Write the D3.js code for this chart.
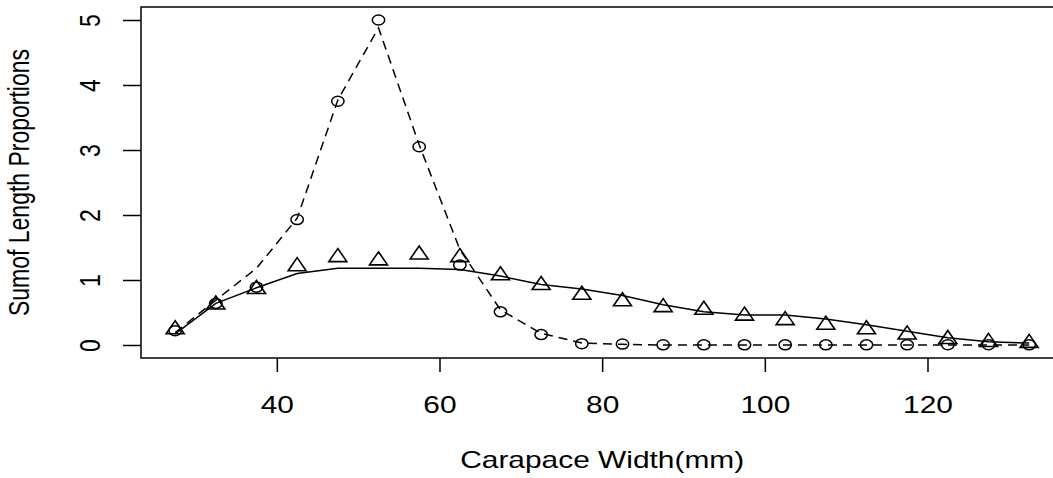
<!DOCTYPE html>
<html>
<head>
<meta charset="utf-8">
<script src="https://cdn.jsdelivr.net/npm/d3@7"></script>
<style>
  html, body { margin: 0; padding: 0; background: #fff; }
  svg { display: block; }
  text { font-family: "Liberation Sans", Arial, Helvetica, sans-serif; fill: #000; }
</style>
</head>
<body>
<svg id="chart" width="1053" height="478"></svg>
<script>
// ---- data ----
const widths = [27.5, 32.5, 37.5, 42.5, 47.5, 52.5, 57.5, 62.5, 67.5, 72.5, 77.5,
                82.5, 87.5, 92.5, 97.5, 102.5, 107.5, 112.5, 117.5, 122.5, 127.5, 132.5];
// circles (pch 1)
const circleValues = [0.22, 0.64, 0.89, 1.93, 3.75, 5.00, 3.05, 1.23, 0.51, 0.16, 0.02,
                      0.015, 0.003, 0.002, 0.002, 0.002, 0.002, 0.002, 0.002, 0.004, 0.004, 0.002];
// dashed line
const dashedValues = [0.19, 0.69, 1.18, 1.95, 3.77, 4.88, 3.08, 1.47, 0.54, 0.18, 0.03,
                      0.01, 0.0, 0.0, 0.0, 0.0, 0.0, 0.0, 0.0, 0.0, 0.0, 0.0];
// triangles (pch 2)
const triangleValues = [0.24, 0.62, 0.86, 1.21, 1.35, 1.30, 1.39, 1.35, 1.07, 0.92, 0.77,
                        0.67, 0.58, 0.54, 0.45, 0.38, 0.31, 0.24, 0.16, 0.09, 0.045, 0.03];
// solid line
const solidValues = [0.17, 0.64, 0.88, 1.10, 1.18, 1.18, 1.18, 1.16, 1.06, 0.93, 0.86,
                     0.76, 0.62, 0.51, 0.46, 0.46, 0.40, 0.31, 0.21, 0.11, 0.05, 0.03];
const xTicks = [40, 60, 80, 100, 120];
const yTicks = [0, 1, 2, 3, 4, 5];
const xTitle = "Carapace Width(mm)";
const yTitle = "Sumof Length Proportions";

// ---- layout ----
const svg = d3.select("#chart");
const boxLeft = 141, boxTop = 7, boxBottom = 358;
const xMin = d3.min(widths), xMax = d3.max(widths);
const xPad = (xMax - xMin) * 0.04;
const yMax = d3.max(circleValues), yPad = yMax * 0.04;
const pxPerUnit = (1029 - 175) / (xMax - xMin);
const boxRight = boxLeft + (xMax - xMin + 2 * xPad) * pxPerUnit;

const x = d3.scaleLinear().domain([xMin - xPad, xMax + xPad]).range([boxLeft, boxRight]);
const y = d3.scaleLinear().domain([0 - yPad, yMax + yPad]).range([boxBottom, boxTop]);

const sx = 1.3;   // horizontal stretch of the reference picture
const fs = 23;

// plot box
svg.append("rect")
  .attr("x", boxLeft).attr("y", boxTop)
  .attr("width", boxRight - boxLeft).attr("height", boxBottom - boxTop)
  .attr("fill", "none").attr("stroke", "#000").attr("stroke-width", 1.5);

// x axis
const xAxis = d3.axisBottom(x).tickValues(xTicks).tickSize(14).tickFormat(d3.format("d"));
const gx = svg.append("g").attr("transform", `translate(0,${boxBottom})`).call(xAxis);
gx.select(".domain").remove();
gx.selectAll(".tick line").attr("stroke", "#000").attr("stroke-width", 1.5);
gx.selectAll(".tick text")
  .attr("y", 0).attr("dy", 0)
  .attr("font-size", fs)
  .attr("transform", `translate(0,55) scale(${sx},1)`)
  .style("font-family", '"Liberation Sans", Arial, sans-serif');

// y axis
const yAxis = d3.axisLeft(y).tickValues(yTicks).tickSize(18).tickFormat(d3.format("d"));
const gy = svg.append("g").attr("transform", `translate(${boxLeft},0)`).call(yAxis);
gy.select(".domain").remove();
gy.selectAll(".tick line").attr("stroke", "#000").attr("stroke-width", 1.5);
gy.selectAll(".tick text")
  .attr("x", 0).attr("y", 0).attr("dy", 0)
  .attr("text-anchor", "middle")
  .attr("font-size", fs)
  .attr("transform", `translate(-41,0) scale(${sx},1) rotate(-90)`)
  .style("font-family", '"Liberation Sans", Arial, sans-serif');

// axis titles
svg.append("text")
  .attr("text-anchor", "middle")
  .attr("font-size", fs)
  .attr("transform", `translate(${(boxLeft + boxRight) / 2},468) scale(${sx},1)`)
  .text(xTitle);
svg.append("text")
  .attr("text-anchor", "middle")
  .attr("font-size", fs)
  .attr("transform", `translate(29,${(boxTop + boxBottom) / 2}) scale(${sx},1) rotate(-90)`)
  .text(yTitle);

// lines
const line = vals => d3.line().x((d, i) => x(widths[i])).y(d => y(d))(vals);
svg.append("path").attr("d", line(dashedValues))
  .attr("fill", "none").attr("stroke", "#000").attr("stroke-width", 1.5)
  .attr("stroke-dasharray", "9,6");
svg.append("path").attr("d", line(solidValues))
  .attr("fill", "none").attr("stroke", "#000").attr("stroke-width", 1.5);

// circles
svg.append("g").selectAll("ellipse").data(circleValues).join("ellipse")
  .attr("cx", (d, i) => x(widths[i])).attr("cy", d => y(d))
  .attr("rx", 6.2).attr("ry", 5)
  .attr("fill", "none").attr("stroke", "#000").attr("stroke-width", 1.5);

// triangles
const tr = 8.7, txc = 9;
svg.append("g").selectAll("path").data(triangleValues).join("path")
  .attr("d", (d, i) => {
    const cx = x(widths[i]), cy = y(d);
    return `M${cx},${cy - tr}L${cx + txc},${cy + tr / 2}L${cx - txc},${cy + tr / 2}Z`;
  })
  .attr("fill", "none").attr("stroke", "#000").attr("stroke-width", 1.6)
  .attr("stroke-linejoin", "miter");
</script>
</body>
</html>
